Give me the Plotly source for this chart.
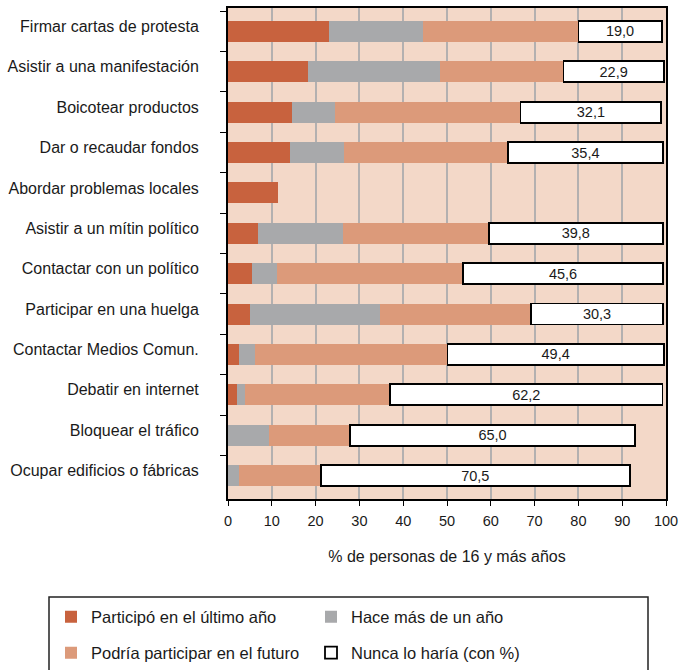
import plotly.graph_objects as go

categories = [
    "Firmar cartas de protesta",
    "Asistir a una manifestación",
    "Boicotear productos",
    "Dar o recaudar fondos",
    "Abordar problemas locales",
    "Asistir a un mítin político",
    "Contactar con un político",
    "Participar en una huelga",
    "Contactar Medios Comun.",
    "Debatir en internet",
    "Bloquear el tráfico",
    "Ocupar edificios o fábricas",
]
participo = [23.0, 18.2, 14.6, 14.2, 11.4, 6.8, 5.5, 5.0, 2.5, 2.0, 0.0, 0.0]
hace_mas = [21.5, 30.2, 9.8, 12.3, 0.0, 19.5, 5.8, 29.7, 3.7, 1.9, 9.4, 2.5]
podria = [35.5, 28.2, 42.4, 37.4, 0.0, 33.2, 42.4, 34.4, 43.9, 33.1, 18.5, 18.7]
nunca = [19.0, 22.9, 32.1, 35.4, None, 39.8, 45.6, 30.3, 49.4, 62.2, 65.0, 70.5]
nunca_labels = ["19,0", "22,9", "32,1", "35,4", "", "39,8", "45,6", "30,3", "49,4", "62,2", "65,0", "70,5"]
x_ticks = [0, 10, 20, 30, 40, 50, 60, 70, 80, 90, 100]

W, H = 682, 670
L, R, T, B = 228, 666, 8, 499
pw, ph = R - L, B - T

def px(x):
    return (x - L) / pw

def py(y):
    return (B - y) / ph

fig = go.Figure()
fig.add_trace(go.Bar(y=categories, x=participo, orientation="h", name="Participó en el último año",
                     marker=dict(color="#c8623e", line=dict(width=0)), legend="legend"))
fig.add_trace(go.Bar(y=categories, x=hace_mas, orientation="h", name="Hace más de un año",
                     marker=dict(color="#a8a9ab", line=dict(width=0)), legend="legend"))
fig.add_trace(go.Bar(y=categories, x=podria, orientation="h", name="Podría participar en el futuro",
                     marker=dict(color="#dc9a7a", line=dict(width=0)), legend="legend2"))
fig.add_trace(go.Bar(y=categories, x=nunca, orientation="h", name="Nunca lo haría (con %)",
                     marker=dict(color="white", line=dict(width=1.8, color="black")),
                     text=nunca_labels, textposition="inside", insidetextanchor="middle",
                     constraintext="none",
                     textfont=dict(size=14.5, color="#1a1a1a"), legend="legend2"))

leg_common = dict(orientation="h", xanchor="left", yanchor="middle", traceorder="normal",
                  entrywidth=215, entrywidthmode="pixels", font=dict(size=16.5),
                  bgcolor="rgba(0,0,0,0)", itemclick=False)

fig.update_layout(
    width=W, height=H,
    margin=dict(l=L, r=W - R, t=T, b=H - B, autoexpand=False),
    barmode="stack", bargap=0.48,
    plot_bgcolor="#f3d8c8", paper_bgcolor="white",
    font=dict(family="Liberation Sans, Arial, sans-serif", color="#1a1a1a", size=14),
    uniformtext=dict(mode="show", minsize=14),
    legend=dict(x=px(51), y=py(617), **leg_common),
    legend2=dict(x=px(51), y=py(653), **leg_common),
    showlegend=True,
)
fig.update_xaxes(range=[0, 100], tickvals=x_ticks, ticks="outside", ticklen=5, tickcolor="black",
                 showline=True, linecolor="black", linewidth=2, mirror=True,
                 showgrid=True, gridcolor="#b3b0b0", gridwidth=2, zeroline=False,
                 tickfont=dict(size=14.5), ticklabelstandoff=3,
                 title=dict(text="% de personas de 16 y más años", font=dict(size=16), standoff=22))
fig.update_yaxes(autorange=False, range=[11.58, -0.58], type="category",
                 ticks="outside", ticklen=6, tickcolor="black", tickson="boundaries",
                 showline=True, linecolor="black", linewidth=2, mirror=True,
                 showgrid=False, tickfont=dict(size=16), ticklabelstandoff=24,
                 ticklabelshift=5)

fig.add_shape(type="rect", xref="paper", yref="paper",
              x0=px(49), x1=px(648), y0=py(597), y1=py(690),
              line=dict(color="#222", width=1.5), fillcolor="rgba(0,0,0,0)")

fig.write_html("out.html", config={"displayModeBar": False},
               post_script="document.body.style.margin='0';document.body.style.padding='0';")
